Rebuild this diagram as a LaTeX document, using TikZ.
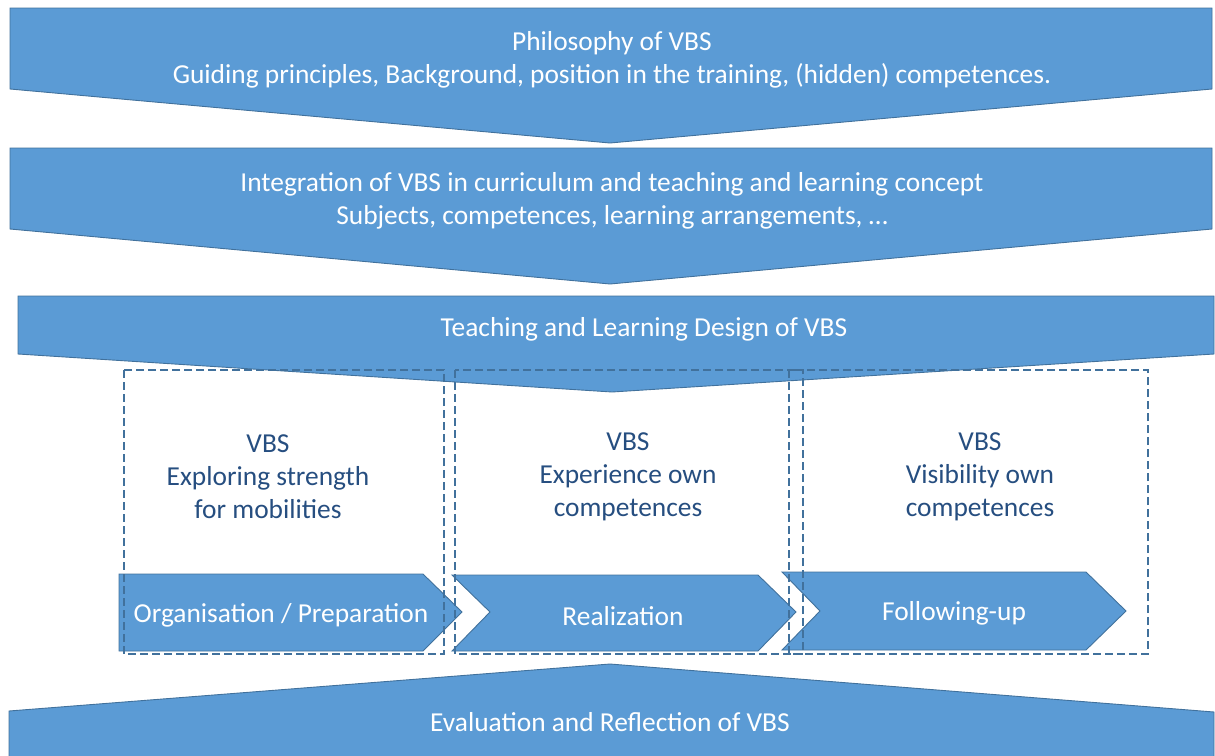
\documentclass[tikz,border=0pt]{standalone}
\usepackage{fontspec}
\setmainfont{Carlito}
\definecolor{fillblue}{RGB}{91,155,213}
\definecolor{edgeblue}{RGB}{65,113,156}
\definecolor{txtblue}{RGB}{38,78,128}
\begin{document}
\begin{tikzpicture}[x=1pt,y=-1pt,
  band/.style={fill=fillblue,draw=edgeblue,line width=0.9pt,line join=miter},
  dbox/.style={draw=edgeblue,dash pattern=on 8pt off 4pt,line width=1.2pt},
  wtxt/.style={text=white,font=\fontsize{27.4}{32.5}\selectfont,align=center},
  btxt/.style={text=txtblue,font=\fontsize{27.4}{33}\selectfont,align=center}]
\useasboundingbox (0,0) rectangle (1215,755);
\clip (0,0) rectangle (1215,755);
% top bands
\draw[band] (10,8) -- (1212,8) -- (1212,89) -- (610,143) -- (10,89) -- cycle;
\draw[band] (10,148) -- (1212,148) -- (1212,229) -- (610,284) -- (10,229) -- cycle;
\draw[band] (18,296) -- (1214,296) -- (1214,354) -- (612,392) -- (18,354) -- cycle;
% bottom band
\draw[band] (9,711) -- (610,664) -- (1214,712) -- (1214,770) -- (9,770) -- cycle;
% chevrons
\draw[band] (119,574) -- (423,574) -- (462,612) -- (423,651) -- (119,651) -- cycle;
\draw[band] (452,575) -- (758,575) -- (796,612) -- (758,651) -- (452,651) -- (490,612) -- cycle;
\draw[band] (782,572) -- (1086,572) -- (1126,611) -- (1086,650) -- (782,650) -- (820,611) -- cycle;
% dashed boxes
\draw[dbox] (124,370) rectangle (444,654);
\draw[dbox] (455,370) rectangle (803,654);
\draw[dbox] (789,370) rectangle (1148,654);
% texts
\node[wtxt] (t1) at (612,60) {Philosophy of VBS\\Guiding principles, Background, position in the training, (hidden) competences.};
\node[wtxt] (t2) at (612,201) {Integration of VBS in curriculum and teaching and learning concept\\Subjects, competences, learning arrangements, …};
\node[wtxt] (t3) at (644,329) {Teaching and Learning Design of VBS};
\node[btxt] (b1) at (268,477) {VBS\\Exploring strength\\for mobilities};
\node[btxt] (b2) at (628,477) {VBS\\Experience own\\competences};
\node[btxt] (b3) at (980,477) {VBS\\Visibility own\\competences};
\node[wtxt] (c1) at (281,615) {Organisation / Preparation};
\node[wtxt] (c2) at (623,616) {Realization};
\node[wtxt] (c3) at (954,613) {Following-up};
\node[wtxt] (t4) at (610,722) {Evaluation and Reflection of VBS};
\end{tikzpicture}
\end{document}
